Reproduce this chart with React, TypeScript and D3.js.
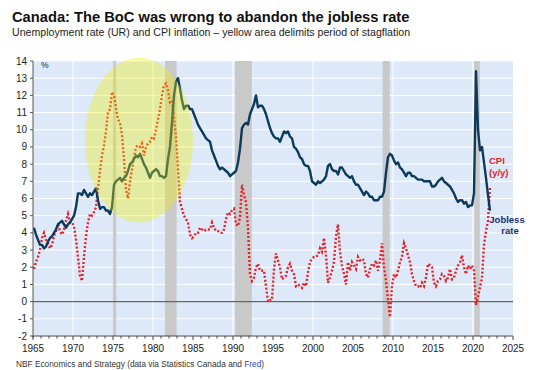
import * as d3 from 'd3'

// quarterly values, first point = 1965 Q1, last = 2022 Q1
const jobless = [
  4.3, 3.9, 3.6, 3.3,
  3.3, 3.1, 3.2, 3.5,
  3.7, 3.8, 4.0, 4.2,
  4.5, 4.6, 4.7, 4.5,
  4.3, 4.5, 4.6, 4.8,
  5.0, 5.5, 6.3, 6.3,
  6.2, 6.5, 6.3, 6.1,
  6.3, 6.2, 6.4, 6.6,
  5.9, 5.4, 5.5, 5.5,
  5.3, 5.3, 5.1, 5.5,
  6.8, 7.0, 7.1, 7.2,
  7.0, 7.2, 7.3, 7.6,
  8.0, 8.1, 8.3, 8.5,
  8.4, 8.6, 8.3, 8.0,
  7.8, 7.5, 7.2, 7.5,
  7.6, 7.7, 7.6, 7.3,
  7.3, 7.2, 7.3, 8.3,
  9.0, 10.4, 12.0, 12.8,
  13.0, 12.4, 11.7, 11.2,
  11.4, 11.4, 11.2, 11.2,
  10.9, 10.6, 10.3, 10.1,
  9.9, 9.7, 9.5, 9.4,
  9.3, 8.8, 8.5, 8.2,
  7.9, 7.7, 7.8, 7.7,
  7.6, 7.5, 7.3, 7.4,
  7.5, 7.6, 8.1, 8.9,
  10.1, 10.3, 10.4, 10.3,
  10.9, 11.2, 11.5, 12.0,
  11.3, 11.4, 11.4, 11.2,
  10.9, 10.5, 10.1, 9.8,
  9.6, 9.5, 9.5, 9.3,
  9.6, 9.9, 9.8, 9.9,
  9.6, 9.5, 9.0, 8.9,
  8.7, 8.4, 8.3, 8.0,
  7.9, 7.9, 7.6, 7.0,
  6.9, 6.8, 7.0, 6.9,
  7.0, 7.1, 7.3, 7.9,
  8.0, 7.7, 7.6, 7.6,
  7.4, 7.8, 7.8, 7.6,
  7.4, 7.3, 7.2, 7.3,
  7.0, 6.8, 6.8, 6.6,
  6.4, 6.2, 6.4, 6.3,
  6.1, 6.1, 5.9, 5.9,
  5.9, 6.1, 6.1, 6.4,
  7.5, 8.4, 8.6, 8.5,
  8.2, 8.0, 8.1, 7.8,
  7.7, 7.5, 7.3, 7.5,
  7.5, 7.3, 7.3, 7.2,
  7.1, 7.1, 7.1, 7.0,
  7.0, 7.0, 7.0, 6.7,
  6.7, 6.8, 7.0, 7.1,
  7.2, 7.0, 6.9, 6.8,
  6.7, 6.5, 6.3, 6.0,
  5.8, 5.9, 5.9, 5.7,
  5.8, 5.5, 5.6, 5.6,
  6.3, 13.4, 10.0, 8.8,
  9.0, 8.1, 7.2, 6.2,
  5.3,
]

const cpi = [
  1.9, 2.3, 2.6, 3.0,
  3.7, 4.0, 3.6, 3.4,
  3.1, 3.3, 3.8, 4.1,
  4.5, 4.1, 3.9, 4.2,
  4.7, 5.1, 4.6, 4.6,
  4.4, 3.6, 2.6, 1.5,
  1.2, 2.6, 3.8, 4.6,
  5.1, 5.0, 5.2, 5.5,
  6.6, 7.6, 8.5, 9.1,
  9.9, 11.0, 11.2, 12.2,
  12.0, 11.3, 10.6, 10.4,
  9.7, 8.3, 6.5, 6.0,
  7.0, 7.7, 8.4, 9.0,
  9.1, 9.0, 9.2, 8.5,
  9.0, 9.2, 9.3, 9.6,
  9.5, 10.0, 10.6, 11.2,
  12.0, 12.6, 12.7, 12.3,
  11.6, 11.7, 10.7, 9.6,
  7.7, 5.8, 5.4, 5.0,
  4.8, 4.6, 3.9, 3.7,
  3.8, 4.0, 4.0, 4.3,
  4.2, 4.1, 4.2, 4.2,
  4.2, 4.6, 4.3, 4.1,
  4.1, 4.0, 4.0, 4.2,
  4.8, 5.2, 5.1, 5.3,
  5.4, 4.5, 4.4, 4.9,
  6.8, 6.2, 5.8, 4.3,
  1.6, 1.2, 1.4, 2.0,
  2.2, 1.8, 1.8, 1.8,
  0.9, 0.0, 0.1, 0.1,
  1.9, 2.8, 2.4, 2.0,
  1.3, 1.4, 1.5, 2.0,
  2.2, 1.8, 1.6, 0.9,
  1.0, 0.9, 0.8, 1.1,
  0.9, 1.7, 2.3, 2.5,
  2.6, 2.6, 2.7, 3.1,
  2.9, 3.7, 2.7, 1.1,
  1.4, 1.8, 2.3, 3.8,
  4.5, 2.9, 2.1, 1.6,
  1.0, 2.3, 1.8, 2.3,
  2.1, 1.9, 2.6, 2.4,
  2.5, 2.4, 1.6, 1.4,
  1.9, 2.2, 2.1, 2.4,
  1.8, 2.4, 3.4, 2.0,
  1.2, 0.1, -0.9, 0.9,
  1.6, 1.4, 1.8, 2.3,
  2.6, 3.4, 3.1, 2.7,
  2.3, 1.6, 1.2, 0.9,
  0.9, 0.8, 1.1, 0.9,
  1.4, 2.2, 2.1, 2.0,
  1.1, 0.9, 1.2, 1.3,
  1.6, 1.5, 1.2, 1.4,
  1.9, 1.3, 1.4, 1.8,
  2.1, 2.3, 2.7, 2.0,
  1.6, 2.1, 1.9, 2.1,
  1.8, -0.2, 0.3, 0.8,
  1.4, 3.3, 4.1, 4.7,
  6.7,
]

const recessions = [
  [1975.0, 1975.4],
  [1981.5, 1982.95],
  [1990.25, 1992.35],
  [2008.7, 2009.6],
  [2020.15, 2020.85],
]

const yTicks = d3.range(-2, 15)
const xLabels = d3.range(1965, 2026, 5)
const xGrid = [1970, 1980, 1990, 2000, 2010, 2020]

// stagflation ellipse, in data units
const stagCenter = [1978.25, 9.4]
const stagRadius = [6.75, 4.8]

function App() {
  const width = 536
  const height = 370
  const left = 33
  const right = 513
  const top = 61
  const bottom = 336
  const font = '"Liberation Sans", Arial, sans-serif'

  const x = d3.scaleLinear().domain([1965, 2025]).range([left, right])
  const y = d3.scaleLinear().domain([-2, 14]).range([bottom, top])

  const t = (i: number) => 1965 + i * 0.25 + 0.125

  const line = d3.line<number>()
    .x((d, i) => x(t(i)))
    .y(d => y(d))

  const minorTicks = d3.range(1965, 2026)

  return (
    <div style={{ position: 'absolute', left: 0, top: 0 }}>
      <svg width={width} height={height} style={{ display: 'block', background: '#fff' }} fontFamily={font}>
        <text x={12} y={22} fontSize={14.7} fontWeight="bold" fill="#111">
          Canada: The BoC was wrong to abandon the jobless rate
        </text>
        <text x={12} y={36} fontSize={10.6} fill="#222">
          Unemployment rate (UR) and CPI inflation – yellow area delimits period of stagflation
        </text>

        <rect x={left} y={top} width={right - left} height={bottom - top} fill="#dde9f8" />

        {yTicks.map(v => (
          <line key={'h' + v} x1={left} x2={right} y1={y(v)} y2={y(v)} stroke="#fff" strokeWidth={1} />
        ))}
        {xGrid.map(v => (
          <line key={'v' + v} x1={x(v)} x2={x(v)} y1={top} y2={bottom} stroke="#fff" strokeWidth={1} />
        ))}

        {recessions.map(([a, b]) => (
          <rect key={a} x={x(a)} y={top} width={x(b) - x(a)} height={bottom - top} fill="#c9c9c9" />
        ))}

        <line x1={left} x2={right} y1={y(0)} y2={y(0)} stroke="#666" strokeWidth={1.2} />

        <path d={line(cpi) || ''} fill="none" stroke="#e3222c" strokeWidth={2.4} strokeDasharray="2 2" />
        <path d={line(jobless) || ''} fill="none" stroke="#0c3a5c" strokeWidth={2.4} strokeLinejoin="round" />

        <ellipse
          cx={x(stagCenter[0])}
          cy={y(stagCenter[1])}
          rx={x(stagCenter[0] + stagRadius[0]) - x(stagCenter[0])}
          ry={y(stagCenter[1] - stagRadius[1]) - y(stagCenter[1])}
          fill="#f0f000"
          opacity={0.34}
        />

        {/* axes */}
        <line x1={left} x2={left} y1={top} y2={bottom + 2} stroke="#555" strokeWidth={1} />
        <line x1={left} x2={right} y1={bottom} y2={bottom} stroke="#444" strokeWidth={1} />
        {yTicks.map(v => (
          <g key={'yl' + v}>
            <line x1={left - 3} x2={left} y1={y(v)} y2={y(v)} stroke="#555" />
            <text x={27} y={y(v) + 3.5} fontSize={10} textAnchor="end" fill="#222">{v}</text>
          </g>
        ))}
        {minorTicks.map(v => (
          <line key={'mt' + v} x1={x(v)} x2={x(v)} y1={bottom} y2={bottom + (v % 5 === 0 ? 4 : 2.5)} stroke="#444" />
        ))}
        {xLabels.map(v => (
          <text key={'xl' + v} x={x(v)} y={352} fontSize={10} textAnchor="middle" fill="#222">{v}</text>
        ))}
        <text x={41} y={68} fontSize={8.5} fill="#222">%</text>

        <text x={489} y={164} fontSize={9.5} fontWeight="bold" fill="#e3222c">CPI</text>
        <text x={489} y={176} fontSize={9.5} fontWeight="bold" fill="#e3222c">(y/y)</text>
        <text x={507} y={223} fontSize={9.5} fontWeight="bold" fill="#1c2f6e" textAnchor="middle">Jobless</text>
        <text x={510} y={234} fontSize={9.5} fontWeight="bold" fill="#1c2f6e" textAnchor="middle">rate</text>

        <text x={16} y={367} fontSize={8.3} fill="#333">
          NBF Economics and Strategy (data via Statistics Canada and <tspan fill="#2b3fd0">Fred</tspan>)
        </text>
      </svg>
    </div>
  )
}

export default App
